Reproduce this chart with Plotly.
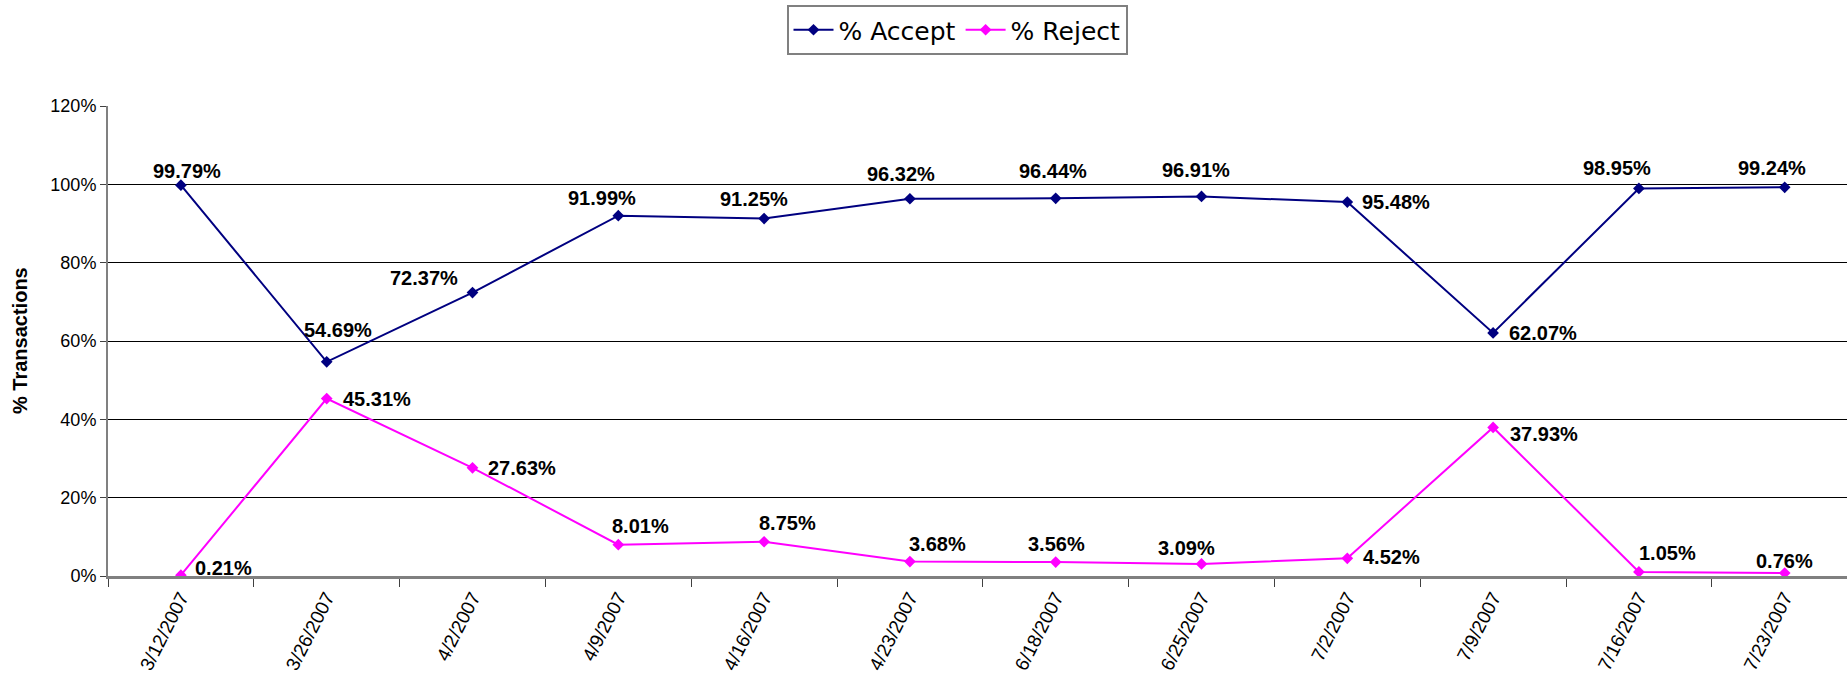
import plotly.graph_objects as go

dates = ["3/12/2007", "3/26/2007", "4/2/2007", "4/9/2007", "4/16/2007", "4/23/2007",
         "6/18/2007", "6/25/2007", "7/2/2007", "7/9/2007", "7/16/2007", "7/23/2007"]
accept = [99.79, 54.69, 72.37, 91.99, 91.25, 96.32, 96.44, 96.91, 95.48, 62.07, 98.95, 99.24]
reject = [0.21, 45.31, 27.63, 8.01, 8.75, 3.68, 3.56, 3.09, 4.52, 37.93, 1.05, 0.76]

# label offsets (px right, px down) as placed in the original chart
accept_off = [(6, -14), (11, -32), (-49, -15), (-16, -18), (-10, -20), (-9, -25),
              (-3, -27), (-6, -26), (49, 0), (50, 0), (-22, -20), (-13, -19)]
reject_off = [(43, -7), (50, 0), (49, 0), (22, -19), (23, -19), (28, -18),
              (1, -18), (-15, -16), (44, -1), (51, 7), (29, -19), (0, -12)]

NAVY = "#000080"
MAGENTA = "#FF00FF"
FONT = "Liberation Sans, Arial, sans-serif"

fig = go.Figure()
fig.add_trace(go.Scatter(
    x=dates, y=accept, name="% Accept", mode="lines+markers",
    line=dict(color=NAVY, width=2),
    marker=dict(symbol="diamond", size=9, color=NAVY),
))
fig.add_trace(go.Scatter(
    x=dates, y=reject, name="% Reject", mode="lines+markers",
    line=dict(color=MAGENTA, width=2),
    marker=dict(symbol="diamond", size=9, color=MAGENTA),
))

annotations = []
for vals, offs in ((accept, accept_off), (reject, reject_off)):
    for d, v, (dx, dy) in zip(dates, vals, offs):
        annotations.append(dict(
            x=d, y=v, xref="x", yref="y", text=f"{v:.2f}%", showarrow=False,
            xshift=dx, yshift=-dy,
            font=dict(family=FONT, size=20, color="black", weight="bold"),
        ))

plot_w = 1847 - 108
cat_px = 145.8

annotations.append(dict(
    text="% Transactions", xref="paper", yref="paper",
    x=(20 - 108) / plot_w, y=0.5, xanchor="center", yanchor="middle",
    textangle=-90, showarrow=False,
    font=dict(family=FONT, size=20, color="black", weight="bold"),
))

fig.update_layout(
    width=1847,
    height=685,
    margin=dict(l=108, r=0, t=106, b=109),
    paper_bgcolor="white",
    plot_bgcolor="white",
    font=dict(family=FONT, size=18, color="black"),
    showlegend=True,
    legend=dict(
        orientation="h",
        xref="container", yref="container",
        x=957 / 1847, xanchor="center",
        y=1 - 5 / 685, yanchor="top",
        bordercolor="#808080", borderwidth=2,
        bgcolor="white",
        font=dict(family="DejaVu Sans, Verdana, sans-serif", size=25, color="black"),
        itemwidth=40,
    ),
    xaxis=dict(
        type="category",
        range=[-0.5, -0.5 + plot_w / cat_px],
        tickson="boundaries",
        ticks="outside", ticklen=8, tickcolor="#404040",
        tickangle=-63,
        tickfont=dict(family=FONT, size=19, color="black"),
        showline=True, linecolor="#808080", linewidth=3,
        showgrid=False,
        automargin=False,
        fixedrange=True,
    ),
    yaxis=dict(
        range=[0, 120],
        dtick=20,
        ticksuffix="%",
        ticks="outside", ticklen=6, tickcolor="#404040",
        tickfont=dict(family=FONT, size=18, color="black"),
        showline=True, linecolor="#808080", linewidth=2,
        showgrid=True, gridcolor="black", gridwidth=1,
        zeroline=False,
        automargin=False,
    ),
    annotations=annotations,
)

fig.write_html(
    "out.html",
    config={"displayModeBar": False},
    post_script="document.body.style.margin = '0';",
)
